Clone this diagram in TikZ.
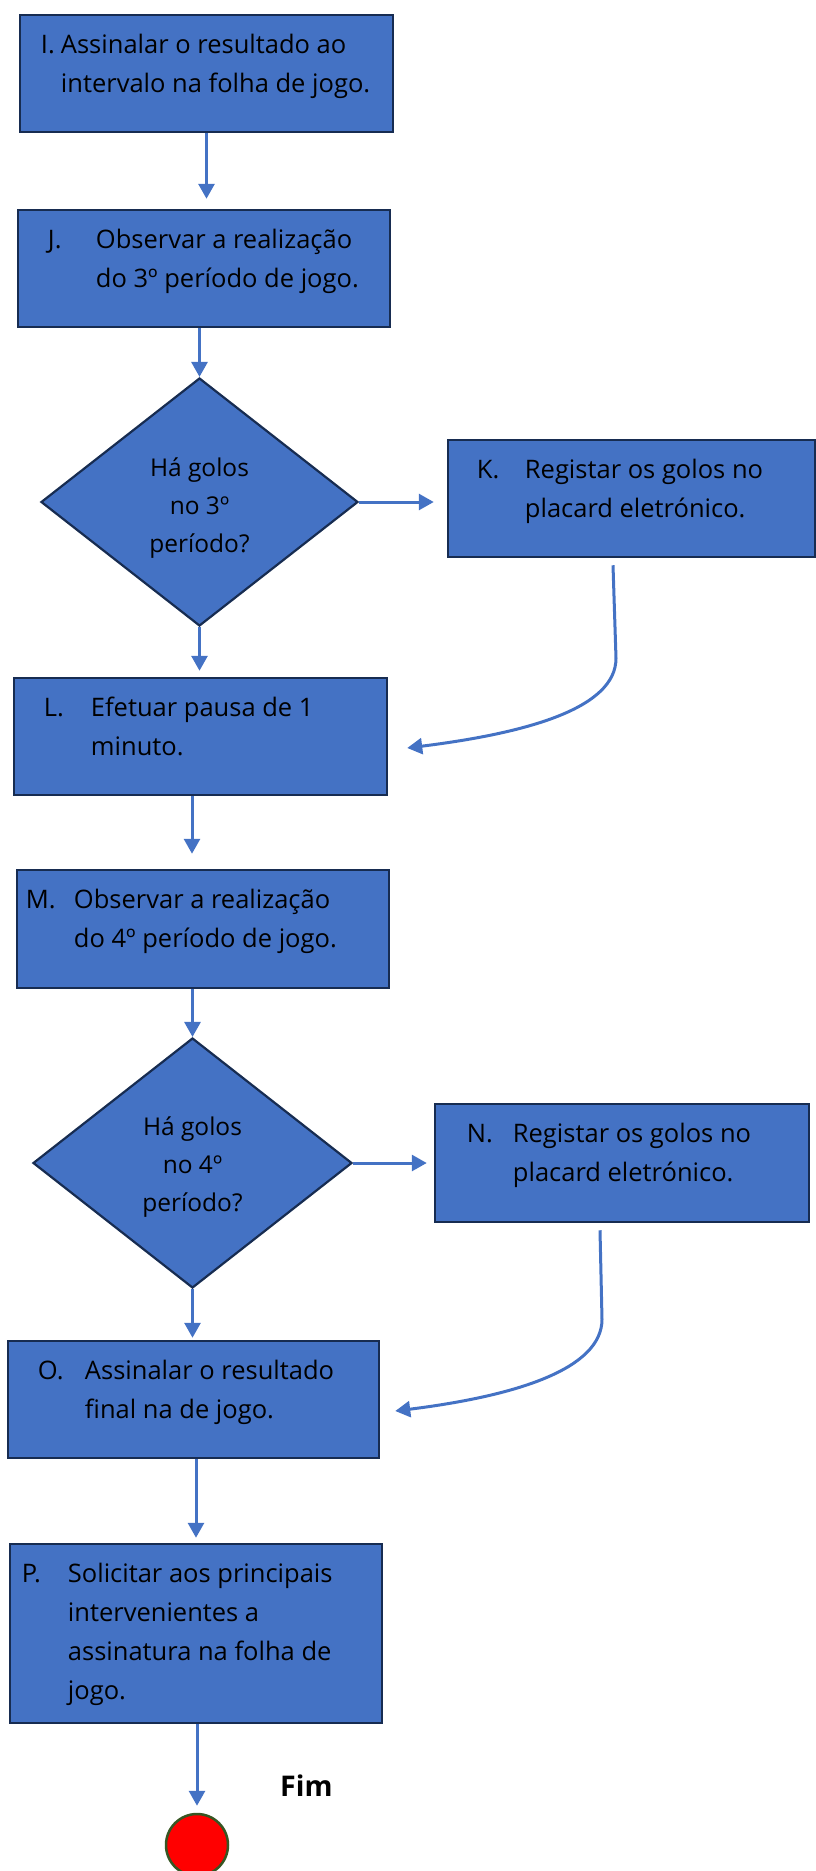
\documentclass[tikz,border=0pt]{standalone}
\usepackage{fontspec}
\setmainfont{Open Sans}
\usepackage{tikz}
\usetikzlibrary{positioning, arrows.meta, shapes.geometric}
\usepackage{xcolor}

\definecolor{boxblue}{HTML}{4472C4}
\definecolor{boxedge}{HTML}{172C51}
\definecolor{endedge}{HTML}{375623}

% label, hanging indent, lines
\newcommand{\stepitem}[3]{\parbox[t]{360pt}{\hangindent=#2\hangafter=1\noindent\makebox[#2][l]{#1}#3}}

\begin{document}
\begin{tikzpicture}[x=1pt, y=-1pt,
    stepbox/.style={draw=boxedge, fill=boxblue, line width=2.5pt, rectangle, minimum height=117pt, inner sep=0pt},
    steptext/.style={anchor=base west, inner sep=0pt, font=\fontsize{25.5}{39}\selectfont},
    decision/.style={draw=boxedge, fill=boxblue, line width=2.2pt, diamond, inner sep=0pt},
    decisiontext/.style={inner sep=0pt, align=center, font=\fontsize{24.5}{38}\selectfont},
    flow/.style={draw=boxblue, line width=3pt, -{Triangle[width=16pt,length=15pt]}}]
    \useasboundingbox (0,0) rectangle (816,1871);

    % Interval and 3rd period
    \node[stepbox, minimum width=373pt] (I) at (206.5,73.5) {};
    \node[steptext] (I-text) at ([shift={(22,40)}]I.north west)
        {\stepitem{I.}{20pt}{Assinalar o resultado ao\\intervalo na folha de jogo.}};

    \node[stepbox, minimum width=372pt] (J) at (204,268.5) {};
    \node[steptext] (J-text) at ([shift={(31,40)}]J.north west)
        {\stepitem{J.}{48pt}{Observar a realização\\do 3º período de jogo.}};

    \node[decision, minimum width=317pt, minimum height=248pt] (goals3) at (199.5,502) {};
    \node[decisiontext] (goals3-text) at ([yshift=-6pt]goals3.center) {Há golos\\no 3º\\período?};

    \node[stepbox, minimum width=367pt] (K) at (631.5,498.5) {};
    \node[steptext] (K-text) at ([shift={(30,40)}]K.north west)
        {\stepitem{K.}{48pt}{Registar os golos no\\placard eletrónico.}};

    \node[stepbox, minimum width=373pt] (L) at (200.5,736.5) {};
    \node[steptext] (L-text) at ([shift={(31,40)}]L.north west)
        {\stepitem{L.}{47pt}{Efetuar pausa de 1\\minuto.}};

    % 4th period
    \node[stepbox, minimum width=372pt, minimum height=118pt] (M) at (203,929) {};
    \node[steptext] (M-text) at ([shift={(10,40)}]M.north west)
        {\stepitem{M.}{48pt}{Observar a realização\\do 4º período de jogo.}};

    \node[decision, minimum width=319pt, minimum height=250pt] (goals4) at (192.5,1163) {};
    \node[decisiontext] (goals4-text) at ([yshift=-4pt]goals4.center) {Há golos\\no 4º\\período?};

    \node[stepbox, minimum width=374pt, minimum height=118pt] (N) at (622,1163) {};
    \node[steptext] (N-text) at ([shift={(33,40)}]N.north west)
        {\stepitem{N.}{46pt}{Registar os golos no\\placard eletrónico.}};

    % End of game
    \node[stepbox, minimum width=371pt] (O) at (193.5,1399.5) {};
    \node[steptext] (O-text) at ([shift={(31,40)}]O.north west)
        {\stepitem{O.}{47pt}{Assinalar o resultado\\final na de jogo.}};

    \node[stepbox, minimum width=372pt, minimum height=179pt] (P) at (196,1633.5) {};
    \node[steptext] (P-text) at ([shift={(13,40)}]P.north west)
        {\stepitem{P.}{46pt}{Solicitar aos principais\\intervenientes a\\assinatura na folha de\\jogo.}};

    \node[draw=endedge, fill=red, circle, line width=2.5pt, minimum size=62pt, inner sep=0pt] (end) at (197,1845) {};
    \node[anchor=base west, inner sep=0pt, font=\fontsize{28.5}{34}\selectfont\bfseries] (fim) at (280,1796) {Fim};

    % Connectors
    \draw[flow, shorten >=10pt] (I.south) -- (I.south |- J.north);
    \draw[flow] (J.south -| goals3.north) -- (goals3.north);
    \draw[flow, shorten >=13pt] (goals3.east) -- (goals3.east -| K.west);
    \draw[flow, shorten >=6pt] (goals3.south) -- (goals3.south |- L.north);
    \coordinate (K-bend) at ([shift={(-15.5,100)}]K.south);
    \draw[flow] ([shift={(-18.5,7)}]K.south) -- (K-bend)
        .. controls +(0,50) and +(120,-15) .. ([shift={(19,11.5)}]L.east);
    \draw[flow, shorten >=15pt] ([xshift=-8.5pt]L.south) -- ([xshift=-8.5pt]L.south |- M.north);
    \draw[flow] (M.south -| goals4.north) -- (goals4.north);
    \draw[flow, shorten >=7pt] (goals4.east) -- (goals4.east -| N.west);
    \draw[flow, shorten >=2pt] (goals4.south) -- (goals4.south |- O.north);
    \coordinate (N-bend) at ([shift={(-20,96)}]N.south);
    \draw[flow] ([shift={(-22,7)}]N.south) -- (N-bend)
        .. controls +(0,50) and +(120,-15) .. ([shift={(15,11.5)}]O.east);
    \draw[flow, shorten >=5pt] (P.north |- O.south) -- (P.north);
    \draw[flow, shorten >=7pt] (P.south -| end.north) -- (end.north);
\end{tikzpicture}
\end{document}
